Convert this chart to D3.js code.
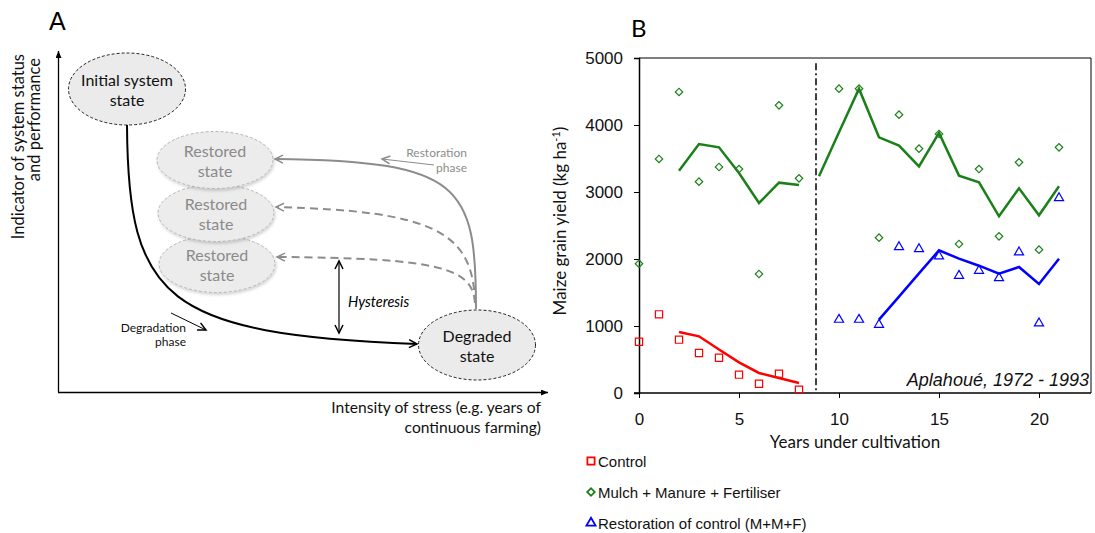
<!DOCTYPE html>
<html>
<head>
<meta charset="utf-8">
<script src="https://cdn.jsdelivr.net/npm/d3@7"></script>
<style>
  body { margin: 0; background: #fff; }
  svg { display: block; }
</style>
</head>
<body>
<svg width="1095" height="533"></svg>
<script>
// ---- panel B data ----
var controlYears = [0, 1, 2, 3, 4, 5, 6, 7, 8];
var controlYield = [766, 1174, 796, 597, 527, 274, 139, 289, 50];
var controlAvgYears = [2, 3, 4, 5, 6, 7, 8];
var controlAvg = [910, 846, 650, 458, 299, 224, 149];

var mmfYears = [0, 1, 2, 3, 4, 5, 6, 7, 8, 10, 11, 12, 13, 14, 15, 16, 17, 18, 19, 20, 21];
var mmfYield = [1930, 3493, 4493, 3154, 3373, 3343, 1776, 4294, 3204, 4542, 4542, 2318, 4154, 3647, 3866, 2224, 3343, 2338, 3443, 2139, 3667];
var mmfAvgYears1 = [2, 3, 4, 5, 6, 7, 8];
var mmfAvg1 = [3318, 3716, 3667, 3284, 2836, 3139, 3104];
var mmfAvgYears2 = [9, 10, 11, 12, 13, 14, 15, 16, 17, 18, 19, 20, 21];
var mmfAvg2 = [3234, 3891, 4542, 3816, 3692, 3383, 3881, 3244, 3144, 2637, 3055, 2652, 3085];

var restYears = [10, 11, 12, 13, 14, 15, 16, 17, 18, 19, 20, 21];
var restYield = [1095, 1095, 1020, 2179, 2149, 2040, 1751, 1826, 1716, 2100, 1040, 2910];
var restAvgYears = [12, 13, 14, 15, 16, 17, 18, 19, 20, 21];
var restAvg = [1095, 1438, 1786, 2129, 2005, 1900, 1781, 1881, 1627, 2005];

var breakYear = 8.85;
var xTicks = [0, 5, 10, 15, 20];
var yTicks = [0, 1000, 2000, 3000, 4000, 5000];
var legendLabels = ["Control", "Mulch + Manure + Fertiliser", "Restoration of control (M+M+F)"];

// ---- panel A text ----
var restoredLabel = ["Restored", "state"];
var initialLabel = ["Initial system", "state"];
var degradedLabel = ["Degraded", "state"];

var svg = d3.select("svg");
var calib = "Lato, 'Open Sans', sans-serif";
var arial = "'Liberation Sans', Arial, sans-serif";

var defs = svg.append("defs");
function marker(id, color) {
  defs.append("marker")
    .attr("id", id)
    .attr("markerUnits", "userSpaceOnUse")
    .attr("markerWidth", 12).attr("markerHeight", 12)
    .attr("refX", 9).attr("refY", 5)
    .attr("orient", "auto-start-reverse")
    .append("path")
    .attr("d", "M1,1 L9,5 L1,9")
    .attr("fill", "none")
    .attr("stroke", color)
    .attr("stroke-width", 1.5);
}
marker("arBlack", "#000");
marker("arGray", "#8c8c8c");
defs.append("marker")
  .attr("id", "axTip")
  .attr("markerUnits", "userSpaceOnUse")
  .attr("markerWidth", 8).attr("markerHeight", 8)
  .attr("refX", 7).attr("refY", 3)
  .attr("orient", "auto")
  .append("path").attr("d", "M0,0 L7,3 L0,6 Z").attr("fill", "#000");
var sh = defs.append("filter").attr("id", "shadow").attr("x", "-20%").attr("y", "-20%").attr("width", "140%").attr("height", "150%");
sh.append("feDropShadow").attr("dx", 1).attr("dy", 2).attr("stdDeviation", 1.5).attr("flood-color", "#000").attr("flood-opacity", 0.18);

// =================== PANEL A ===================
var gA = svg.append("g");

gA.append("text").attr("x", 49).attr("y", 30).text("A")
  .style("font-family", arial).style("font-size", "25px");

// axes
gA.append("line").attr("x1", 58.5).attr("y1", 392).attr("x2", 58.5).attr("y2", 51)
  .attr("stroke", "#000").attr("stroke-width", 1.3).attr("marker-end", "url(#axTip)");
gA.append("line").attr("x1", 58).attr("y1", 392.5).attr("x2", 548).attr("y2", 392.5)
  .attr("stroke", "#000").attr("stroke-width", 1.3).attr("marker-end", "url(#axTip)");

var yT = gA.append("text").attr("transform", "translate(24,54) rotate(-90)")
  .attr("text-anchor", "end")
  .style("font-family", calib).style("font-size", "16.5px").attr("fill", "#111");
yT.append("tspan").attr("x", 0).attr("y", 0).text("Indicator of system status");
yT.append("tspan").attr("x", -4).attr("y", 16).text("and performance");

var xT = gA.append("text").attr("text-anchor", "end")
  .style("font-family", calib).style("font-size", "15.6px").attr("fill", "#111");
xT.append("tspan").attr("x", 541).attr("y", 413).text("Intensity of stress (e.g. years of");
xT.append("tspan").attr("x", 541).attr("y", 433).text("continuous farming)");

// curves
gA.append("path").attr("d", "M127,125 C128,300 165,334 417,344")
  .attr("fill", "none").attr("stroke", "#000").attr("stroke-width", 2)
  .attr("marker-end", "url(#arBlack)");
gA.append("path").attr("d", "M476,309 C476,185 462,161 275,159")
  .attr("fill", "none").attr("stroke", "#8c8c8c").attr("stroke-width", 2)
  .attr("marker-end", "url(#arGray)");
gA.append("path").attr("d", "M475,303 C473,232 435,211 276,207")
  .attr("fill", "none").attr("stroke", "#8c8c8c").attr("stroke-width", 2)
  .attr("stroke-dasharray", "8,5").attr("marker-end", "url(#arGray)");
gA.append("path").attr("d", "M475,303 C473,268 440,258 277,257")
  .attr("fill", "none").attr("stroke", "#8c8c8c").attr("stroke-width", 2)
  .attr("stroke-dasharray", "8,5").attr("marker-end", "url(#arGray)");

// hysteresis
gA.append("line").attr("x1", 339).attr("y1", 261).attr("x2", 339).attr("y2", 333)
  .attr("stroke", "#000").attr("stroke-width", 1.2)
  .attr("marker-start", "url(#arBlack)").attr("marker-end", "url(#arBlack)");
gA.append("text").attr("x", 348).attr("y", 307).text("Hysteresis")
  .style("font-family", calib).style("font-size", "14.5px").style("font-style", "italic");

// phase labels
var dT = gA.append("text").attr("text-anchor", "end")
  .style("font-family", calib).style("font-size", "12px").attr("fill", "#111");
dT.append("tspan").attr("x", 186).attr("y", 332).text("Degradation");
dT.append("tspan").attr("x", 186).attr("y", 346).text("phase");
gA.append("line").attr("x1", 171).attr("y1", 313).attr("x2", 206).attr("y2", 330)
  .attr("stroke", "#000").attr("stroke-width", 1)
  .attr("marker-end", "url(#arBlack)");

var rT = gA.append("text").attr("text-anchor", "end")
  .style("font-family", calib).style("font-size", "12px").attr("fill", "#8c8c8c");
rT.append("tspan").attr("x", 467).attr("y", 157).text("Restoration");
rT.append("tspan").attr("x", 467).attr("y", 172).text("phase");
gA.append("line").attr("x1", 434).attr("y1", 165).attr("x2", 382).attr("y2", 159)
  .attr("stroke", "#8c8c8c").attr("stroke-width", 1)
  .attr("marker-end", "url(#arGray)");

// states
function stateEllipse(cx, cy, rx, ry, lines, dark) {
  var g = gA.append("g");
  g.append("ellipse").attr("cx", cx).attr("cy", cy).attr("rx", rx).attr("ry", ry)
    .attr("fill", dark ? "#ebebeb" : "#ececec")
    .attr("stroke", dark ? "#222" : "#b4b4b4")
    .attr("stroke-width", 1)
    .attr("stroke-dasharray", "3,2")
    .attr("filter", dark ? null : "url(#shadow)");
  var t = g.append("text").attr("text-anchor", "middle")
    .style("font-family", calib).style("font-size", "16px")
    .attr("fill", dark ? "#111" : "#8a8a8a");
  lines.forEach(function (s, i) {
    t.append("tspan").attr("x", cx).attr("y", cy - 3 + i * 19.5).text(s);
  });
}
stateEllipse(217, 264, 58, 28.5, restoredLabel, false);
stateEllipse(216, 213, 58, 28.5, restoredLabel, false);
stateEllipse(215, 160, 58, 28.5, restoredLabel, false);
stateEllipse(127, 89, 58.5, 36, initialLabel, true);
stateEllipse(477, 345, 58.5, 35, degradedLabel, true);

// =================== PANEL B ===================
var x = d3.scaleLinear().domain([0, 22.6]).range([639, 1091]);
var y = d3.scaleLinear().domain([0, 5000]).range([393, 58]);
var gB = svg.append("g");

gB.append("text").attr("x", 631).attr("y", 37).text("B")
  .style("font-family", calib).style("font-size", "24px");

// frame
gB.append("path")
  .attr("d", "M" + x(0) + "," + y(5000) + "H" + x(22.6) + "V" + y(0))
  .attr("fill", "none").attr("stroke", "#000").attr("stroke-width", 1);

var xAxis = gB.append("g").attr("transform", "translate(0," + y(0) + ")")
  .call(d3.axisBottom(x).tickValues(xTicks).tickSize(5).tickPadding(15));
var yAxis = gB.append("g").attr("transform", "translate(" + x(0) + ",0)")
  .call(d3.axisLeft(y).tickValues(yTicks).tickSize(5).tickPadding(11).tickFormat(d3.format("d")));
[xAxis, yAxis].forEach(function (a) {
  a.select(".domain").attr("stroke-width", 1.5);
  a.selectAll("text").style("font-family", arial).style("font-size", "17px").attr("fill", "#111");
});
xAxis.select(".domain").attr("d", "M" + (x(0) - 5) + ",0H" + x(22.6));

gB.append("text").attr("x", 855).attr("y", 448).attr("text-anchor", "middle")
  .text("Years under cultivation")
  .style("font-family", calib).style("font-size", "17px").attr("fill", "#111");

var yl = gB.append("text").attr("transform", "translate(566,221) rotate(-90)")
  .attr("text-anchor", "middle")
  .style("font-family", calib).style("font-size", "17px").attr("fill", "#111");
yl.append("tspan").text("Maize grain yield (kg ha");
yl.append("tspan").attr("dy", "-6").style("font-size", "11px").text("-1");
yl.append("tspan").attr("dy", "6").text(")");

// break line
gB.append("line").attr("x1", x(breakYear)).attr("x2", x(breakYear))
  .attr("y1", y(4920)).attr("y2", y(0))
  .attr("stroke", "#000").attr("stroke-width", 1.5)
  .attr("stroke-dasharray", "7,3,2,3");

gB.append("text").attr("x", 1089).attr("y", 386).attr("text-anchor", "end")
  .text("Aplahoué, 1972 - 1993")
  .style("font-family", arial).style("font-size", "18px").style("font-style", "italic")
  .attr("fill", "#111");

var line = d3.line().x(function (d) { return x(d[0]); }).y(function (d) { return y(d[1]); });
function drawLine(xs, ys, color) {
  gB.append("path").datum(d3.zip(xs, ys)).attr("d", line)
    .attr("fill", "none").attr("stroke", color).attr("stroke-width", 2.5)
    .attr("stroke-linejoin", "miter");
}
var red = "#ff0000", green = "#1a8018", blue = "#0000ff";
drawLine(controlAvgYears, controlAvg, red);
drawLine(mmfAvgYears1, mmfAvg1, green);
drawLine(mmfAvgYears2, mmfAvg2, green);
drawLine(restAvgYears, restAvg, blue);

var sq = d3.symbol().type(d3.symbolSquare).size(52);
var dia = d3.symbol().type(d3.symbolSquare).size(28);
var tri = d3.symbol().type(d3.symbolTriangle).size(36);

function drawPoints(xs, ys, sym, color, rot) {
  gB.append("g").selectAll("path").data(d3.zip(xs, ys)).enter().append("path")
    .attr("d", sym)
    .attr("transform", function (d) { return "translate(" + x(d[0]) + "," + y(d[1]) + ")" + (rot ? " rotate(45)" : ""); })
    .attr("fill", "none").attr("stroke", color).attr("stroke-width", 1.2);
}
drawPoints(controlYears, controlYield, sq, red, false);
drawPoints(mmfYears, mmfYield, dia, green, true);
drawPoints(restYears, restYield, tri, blue, false);

// legend
var legSyms = [[sq, red, false], [dia, green, true], [tri, blue, false]];
var legY = [461, 492, 523];
legendLabels.forEach(function (lab, i) {
  gB.append("path").attr("d", legSyms[i][0])
    .attr("transform", "translate(591," + legY[i] + ")" + (legSyms[i][2] ? " rotate(45)" : ""))
    .attr("fill", "none").attr("stroke", legSyms[i][1]).attr("stroke-width", 1.8);
  gB.append("text").attr("x", 598).attr("y", legY[i] + 6).text(lab)
    .style("font-family", arial).style("font-size", "15px").attr("fill", "#111");
});
</script>
</body>
</html>
